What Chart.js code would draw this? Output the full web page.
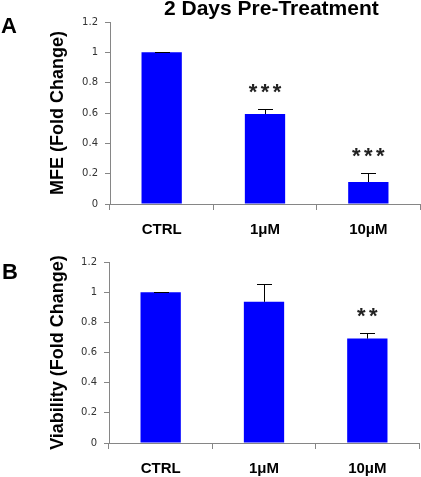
<!DOCTYPE html>
<html>
<head>
<meta charset="utf-8">
<script src="https://cdn.jsdelivr.net/npm/chart.js@4.4.0/dist/chart.umd.min.js"></script>
<style>
body { margin: 0; background: #fff; }
#wrap { position: relative; width: 421px; height: 477px; overflow: hidden; font-family: "Liberation Sans", Arial, sans-serif; }
canvas { position: absolute; left: 0; }
.txt { position: absolute; font-weight: bold; white-space: nowrap; color: #000; }
</style>
</head>
<body>
<div id="wrap">
  <canvas id="chartA" width="421" height="240" style="top:0"></canvas>
  <canvas id="chartB" width="421" height="237" style="top:240px"></canvas>
  <div class="txt" style="left:164px; top:-3px; font-size:21px; line-height:21px;">2 Days Pre-Treatment</div>
  <div class="txt" style="left:1px; top:15px; font-size:22px; line-height:22px;">A</div>
  <div class="txt" style="left:2px; top:261px; font-size:22px; line-height:22px;">B</div>
</div>
<script>
'use strict';

const categories = ['CTRL', '1μM', '10μM'];
const yTickValues = [0, 0.2, 0.4, 0.6, 0.8, 1, 1.2];

// panel A: MFE
const mfeValues = [1.0, 0.593, 0.145];
const mfeErrors = [0.004, 0.031, 0.057];
const mfeStars = ['', '***', '***'];

// panel B: viability
const viabilityValues = [1.0, 0.936, 0.692];
const viabilityErrors = [0.003, 0.115, 0.04];
const viabilityStars = ['', '', '**'];

const barColor = '#0000FF';
const axisColor = '#868686';

// upper error bars + significance stars on top of the bars
const errorBarPlugin = {
    id: 'errorBars',
    afterDatasetsDraw(chart) {
        const ctx = chart.ctx;
        const yScale = chart.scales.y;
        const ds = chart.data.datasets[0];
        const meta = chart.getDatasetMeta(0);
        ctx.save();
        for (let i = 0; i < ds.data.length; i++) {
            let x = meta.data[i].x;
            let yBase = yScale.getPixelForValue(ds.data[i]);
            let yTop = yScale.getPixelForValue(ds.data[i] + ds.errors[i]);
            ctx.strokeStyle = '#000';
            ctx.lineWidth = 1;
            ctx.beginPath();
            ctx.moveTo(Math.round(x) + 0.5, yBase);
            ctx.lineTo(Math.round(x) + 0.5, Math.round(yTop) + 0.5);
            ctx.moveTo(Math.round(x) - 7, Math.round(yTop) + 0.5);
            ctx.lineTo(Math.round(x) + 8, Math.round(yTop) + 0.5);
            ctx.stroke();

            // stars: one glyph at a time, 12px apart
            let n = ds.stars[i].length;
            ctx.fillStyle = '#222';
            ctx.font = 'bold 22px "Liberation Sans", Arial, sans-serif';
            ctx.textAlign = 'center';
            ctx.textBaseline = 'alphabetic';
            for (let k = 0; k < n; k++) {
                let sx = x + (k - (n - 1) / 2) * 12;
                ctx.fillText('*', sx, yTop - 22 + 12);
            }
        }
        ctx.restore();
    }
};

function makeChart(canvasId, values, errors, stars, yTitle, box) {
    let ctx = document.getElementById(canvasId).getContext('2d');
    return new Chart(ctx, {
        type: 'bar',
        data: {
            labels: categories,
            datasets: [{
                data: values,
                errors: errors,
                stars: stars,
                backgroundColor: barColor,
                borderWidth: 0,
                categoryPercentage: 1,
                barPercentage: 0.39
            }]
        },
        options: {
            responsive: false,
            animation: false,
            events: [],
            layout: { padding: { top: box.top, right: box.right, left: 0, bottom: 0 } },
            plugins: { legend: { display: false }, tooltip: { enabled: false } },
            scales: {
                x: {
                    grid: { offset: true, drawOnChartArea: false, drawTicks: true, tickLength: 6, color: axisColor },
                    border: { color: axisColor },
                    ticks: {
                        color: '#000',
                        padding: 11,
                        font: { family: '"Liberation Sans", Arial, sans-serif', size: 15, weight: 'bold' }
                    },
                    afterFit: function(s) { s.height = box.xHeight; }
                },
                y: {
                    min: 0,
                    max: 1.2,
                    afterBuildTicks: function(s) { s.ticks = yTickValues.map(v => ({ value: v })); },
                    grid: { drawOnChartArea: false, drawTicks: true, tickLength: 5, color: axisColor },
                    border: { color: axisColor },
                    ticks: {
                        color: '#333',
                        padding: 7,
                        font: { family: '"DejaVu Sans", sans-serif', size: 10 },
                        callback: function(v) { return String(v); }
                    },
                    title: {
                        display: true,
                        text: yTitle,
                        color: '#000',
                        padding: { top: 47, bottom: 0 },
                        font: { family: '"Liberation Sans", Arial, sans-serif', size: 18, weight: 'bold' }
                    },
                    afterFit: function(s) { s.width = box.yWidth; }
                }
            }
        },
        plugins: [errorBarPlugin]
    });
}

makeChart('chartA', mfeValues, mfeErrors, mfeStars, 'MFE (Fold Change)',
    { top: 22, right: 1, xHeight: 36, yWidth: 110 });
makeChart('chartB', viabilityValues, viabilityErrors, viabilityStars, 'Viability (Fold Change)',
    { top: 22, right: 2, xHeight: 34, yWidth: 109 });
</script>
</body>
</html>
